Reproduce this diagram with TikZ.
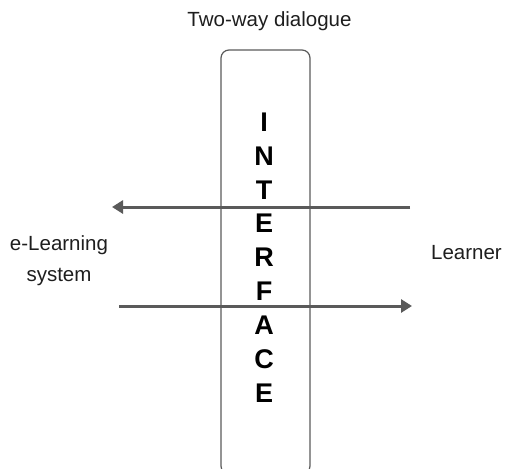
\documentclass[tikz,border=0pt]{standalone}
\usepackage{fontspec}
\setmainfont{Liberation Sans}
\usetikzlibrary{arrows.meta}
\definecolor{linegray}{HTML}{5A5A5A}
\definecolor{txt}{HTML}{1E1E1E}
\tikzset{
  lbl/.style={font=\fontsize{20.5}{30}\selectfont, text=txt, align=center, inner sep=0pt, anchor=base},
  letter/.style={font=\bfseries\fontsize{27}{27}\selectfont, text=black, inner sep=0pt},
  flow/.style={draw=linegray, line width=3pt, -{Triangle[length=11pt,width=13pt]}},
  ifacebox/.style={draw=linegray, line width=1.2pt, rounded corners=8pt}
}
\begin{document}
\begin{tikzpicture}[x=1pt,y=-1pt]
\useasboundingbox (0,0) rectangle (510,468);
\clip (0,0) rectangle (510,468);
\node[ifacebox, minimum width=89pt, minimum height=424pt] (iface) at (265.5,262) {};
\foreach \l [count=\i] in {I,N,T,E,R,F,A,C,E} {
  \node[letter] (L\i) at (264, 88.1+33.9*\i) {\l};
}
\node[lbl] (top) at (269.5,27) {Two-way dialogue};
\node[lbl] (sys1) at (59,250) {e-Learning};
\node[lbl] (sys2) at (59,281) {system};
\node[lbl] (learner) at (466.5,259) {Learner};
\coordinate (a1s) at (410,207);
\coordinate (a1e) at (112,207);
\coordinate (a2s) at (119,306);
\coordinate (a2e) at (412,306);
\draw[flow] (a1s) -- (a1e);
\draw[flow] (a2s) -- (a2e);
\end{tikzpicture}
\end{document}
